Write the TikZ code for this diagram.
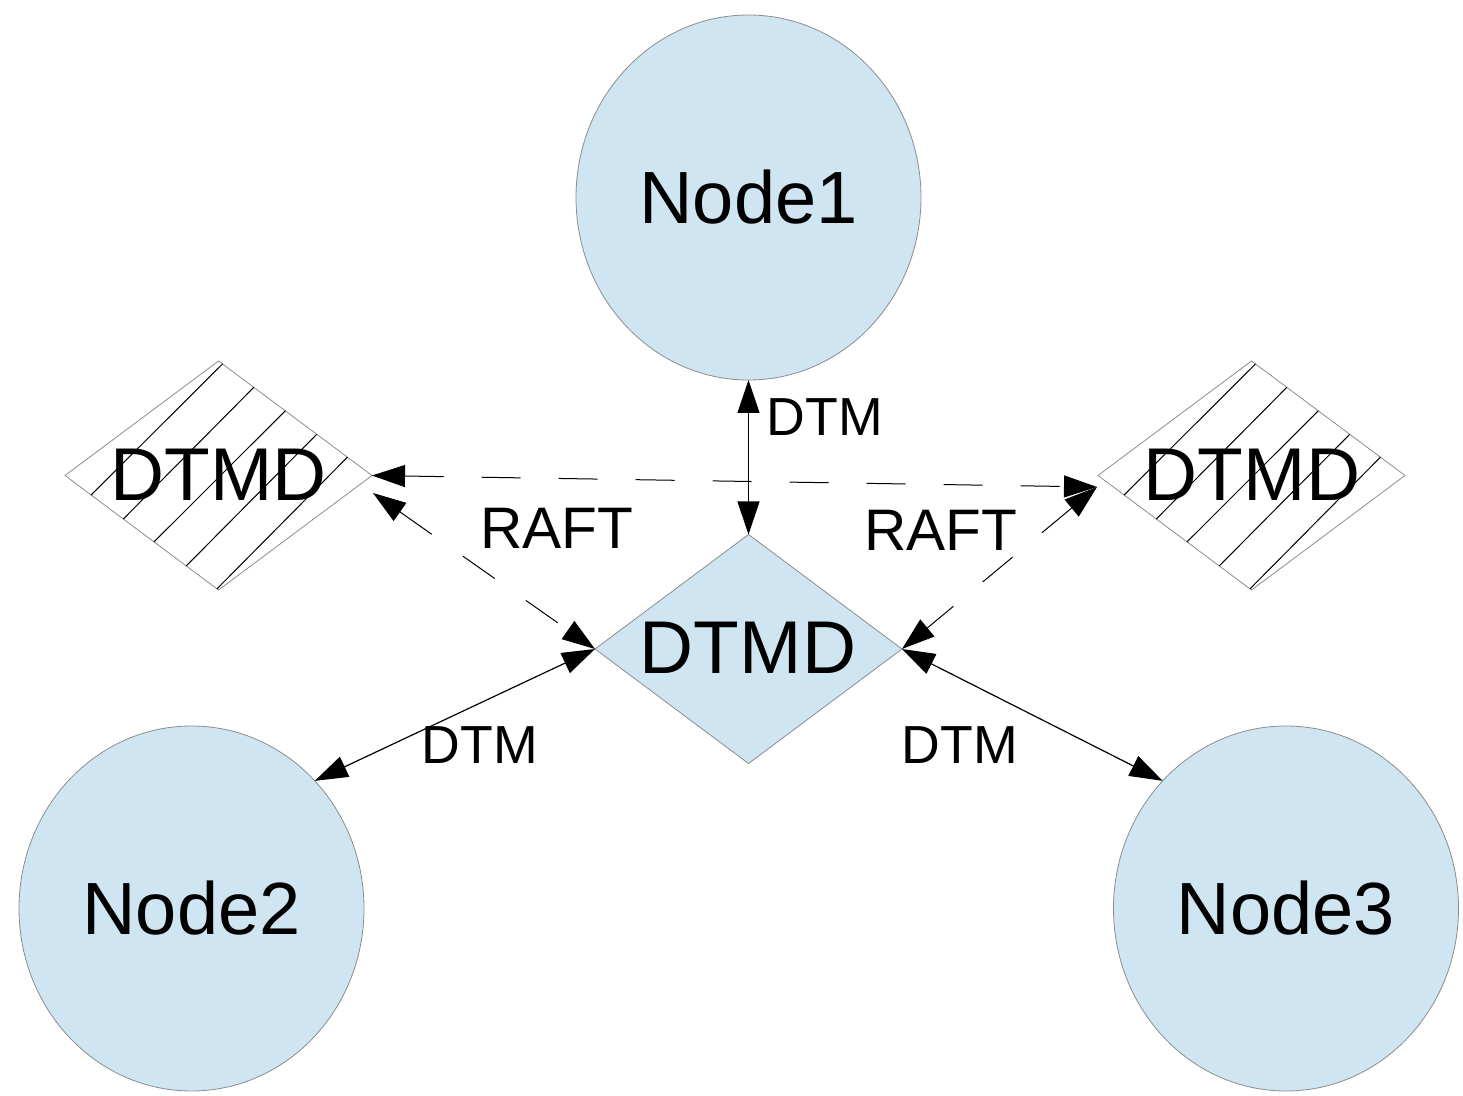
\documentclass[tikz,border=0pt]{standalone}
\usepackage{fontspec}
\setmainfont{Liberation Sans}
\usetikzlibrary{shapes.geometric,arrows.meta,calc}
\definecolor{nodefill}{HTML}{CFE5F2}
\definecolor{edgegray}{HTML}{8C8C8C}
\begin{document}
\begin{tikzpicture}[x=0.5pt,y=-0.5pt,
  circ/.style={ellipse, draw=edgegray, line width=0.4pt, fill=nodefill,
    minimum width=172.5pt, minimum height=182.5pt, inner sep=0pt, outer sep=0pt,
    font=\fontsize{37}{40}\selectfont},
  dia/.style={diamond, draw=edgegray, line width=0.4pt, minimum width=153.5pt,
    minimum height=114.5pt, inner sep=0pt, outer sep=0pt},
  bigtxt/.style={font=\fontsize{37.4}{40}\selectfont, inner sep=0pt},
  lbl/.style={font=\fontsize{26.8}{28}\selectfont, inner sep=0pt},
  rlbl/.style={font=\fontsize{29.3}{30}\selectfont, inner sep=0pt},
  link/.style={line width=0.6pt, {Triangle[length=16.5pt,width=11pt]}-{Triangle[length=16.5pt,width=11pt]}},
  raft/.style={link, line width=0.5pt, dash pattern=on 19.5pt off 19pt},
  hatch/.style={line width=0.5pt, black}
]
\useasboundingbox (0,0) rectangle (1463,1096);
% main shapes
\node[circ] (n1) at (748.5,197.5) {Node1};
\node[circ] (n2) at (191.5,908.5) {Node2};
\node[circ] (n3) at (1286,908.5) {Node3};
\node[dia, fill=nodefill] (dc) at (748.5,649) {};
\node[dia] (dl) at (218.5,475.5) {};
\node[dia] (dr) at (1251.5,475.5) {};
% hatching of the two outer diamonds
\foreach \t/\s in {0.17/0.026,0.38/0.23,0.58/0.435,0.79/0.64,0.99/0.84}{
  \draw[hatch] ($(dl.west)!\t!(dl.south)$) -- ($(dl.north)!\s!(dl.east)$);
  \draw[hatch] ($(dr.west)!\t!(dr.south)$) -- ($(dr.north)!\s!(dr.east)$);
}
% diamond texts
\node[bigtxt] (tc) at (748,648) {DTMD};
\node[bigtxt] (tl) at (219,475) {DTMD};
\node[bigtxt] (tr) at (1252,475) {DTMD};
% glue points
\coordinate (rg) at (1097,487);
\coordinate (lg) at (373,493);
% connectors
\draw[raft] (dl.east) -- (rg);
\draw[raft] (lg) -- (dc.west);
\draw[raft] (rg) -- (dc.east);
\draw[link] (n1.south) -- (dc.north);
\draw[link] (dc.west) -- (n2.46);
\draw[link] (dc.east) -- (n3.134);
% labels
\node[lbl] (l1) at (825,417) {DTM};
\node[lbl] (l2) at (480,745) {DTM};
\node[lbl] (l3) at (960,745) {DTM};
\node[rlbl] (r1) at (557,528.5) {RAFT};
\node[rlbl] (r2) at (941,530) {RAFT};
\end{tikzpicture}
\end{document}
